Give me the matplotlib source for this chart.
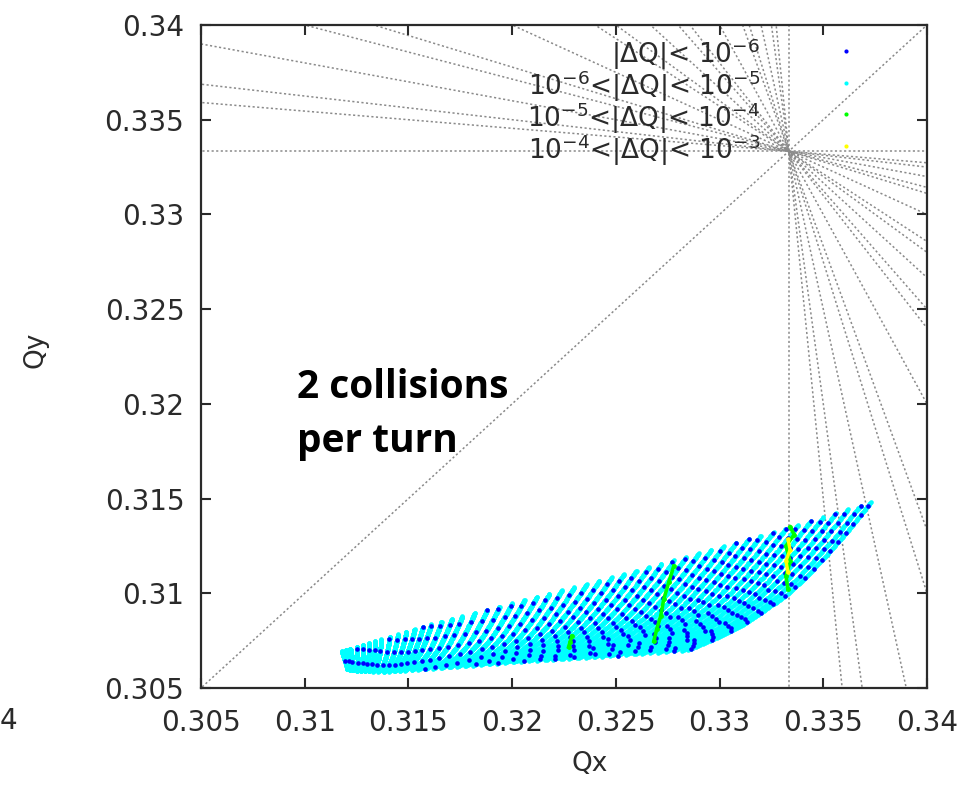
import numpy as np
import matplotlib.pyplot as plt
from matplotlib.ticker import FixedLocator, FuncFormatter

# resonance lines m*Qx + n*Qy = p through the third-order point
resonances = [
    (0, 3, 1), (3, 0, 1), (1, -1, 0),
    (1, 2, 1), (2, 1, 1),
    (1, 5, 2), (5, 1, 2), (3, 3, 2),
    (1, 8, 3), (8, 1, 3), (2, 7, 3), (7, 2, 3), (4, 5, 3), (5, 4, 3),
    (1, 11, 4), (11, 1, 4), (5, 7, 4), (7, 5, 4), (3, 9, 4), (9, 3, 4),
]

# footprint boundary: zero-amplitude tip and the four edges
upper_qx = [0.3373, 0.3333, 0.3280, 0.3240, 0.3208, 0.3159, 0.3117]
upper_qy = [0.3148, 0.31345, 0.3118, 0.3106, 0.3097, 0.3083, 0.3069]
lower_qx = [0.3285, 0.3238, 0.3208, 0.3160, 0.3138, 0.3125, 0.3120]
lower_qy = [0.3070, 0.3066, 0.30642, 0.30600, 0.30585, 0.30590, 0.30600]
right_qx = [0.3373, 0.3362, 0.3351, 0.3341, 0.3333, 0.3322, 0.3311, 0.3298, 0.3285]
right_qy = [0.3148, 0.3133, 0.31195, 0.3108, 0.3100, 0.3091, 0.3083, 0.3076, 0.3070]
left_qx = [0.3117, 0.3120]
left_qy = [0.3069, 0.3060]

# horizontal tune where each constant-amplitude line leaves the upper edge
stripe_qx = [0.3373, 0.3368, 0.3362, 0.3356, 0.3350, 0.3344, 0.3338, 0.3332,
             0.3326, 0.3320, 0.3314, 0.3308, 0.3302, 0.3296, 0.3290, 0.3284,
             0.3278, 0.3272, 0.3266, 0.3260, 0.3254, 0.3248, 0.3242, 0.3236,
             0.3230, 0.3224, 0.3218, 0.3212, 0.3206, 0.3200, 0.3194, 0.3188,
             0.3182, 0.3176, 0.3171, 0.3166, 0.3161, 0.3157, 0.3153, 0.3149,
             0.3145, 0.3141, 0.3137, 0.3134, 0.3131, 0.3128, 0.3125, 0.3122,
             0.3120, 0.3118]
n_steps = 150
slow_gap_px = 14

# particles with larger tune diffusion
green_runs = [
    ([0.3334, 0.3336, 0.3332, 0.3334, 0.3332, 0.3333], [0.3135, 0.3131, 0.3125, 0.3117, 0.3109, 0.3102]),
    ([0.32779, 0.32755, 0.32731, 0.32716, 0.32697, 0.32683], [0.31143, 0.31058, 0.30969, 0.30879, 0.30811, 0.30747]),
    ([0.32288, 0.32280, 0.32272], [0.30774, 0.30745, 0.30716]),
]
yellow_runs = [
    ([0.3333, 0.3334, 0.3332, 0.3333], [0.31285, 0.31230, 0.31170, 0.31111]),
]

labels = [r'|ΔQ|< 10$^{-6}$', r'10$^{-6}$<|ΔQ|< 10$^{-5}$',
          r'10$^{-5}$<|ΔQ|< 10$^{-4}$', r'10$^{-4}$<|ΔQ|< 10$^{-3}$']
colors = ['#0000ff', '#00ffff', '#00ff00', '#ffff00']
ticks = [0.305, 0.31, 0.315, 0.32, 0.325, 0.33, 0.335, 0.34]

plt.rcParams['font.family'] = 'DejaVu Sans'
ink = '#2a2a2a'
fig = plt.figure(figsize=(9.69, 7.85), dpi=100)
ax = fig.add_axes([201 / 969, 1 - 688 / 785, 726 / 969, 663 / 785])
ax.set_xlim(0.305, 0.34)
ax.set_ylim(0.305, 0.34)

for m, n, p in resonances:
    if n == 0:
        xs, ys = [p / m, p / m], [0.30, 0.35]
    else:
        xs = np.array([0.30, 0.35])
        ys = (p - m * xs) / n
    ax.plot(xs, ys, color='#8a8a8a', lw=1.1, ls=(0, (1.4, 1.6)), zorder=1)

# Coons patch between the four edges, u along amplitude x, v along amplitude y
q0 = np.array([upper_qx[0], upper_qy[0]])
q1 = np.array([upper_qx[-1], upper_qy[-1]])
q2 = np.array([lower_qx[0], lower_qy[0]])
q3 = np.array([lower_qx[-1], lower_qy[-1]])
su = (q0[0] - np.array(stripe_qx)) / (q0[0] - q1[0])
sv = np.linspace(0, 1, n_steps)
U, V = np.meshgrid(su, sv, indexing='ij')

uu = (q0[0] - np.array(upper_qx)) / (q0[0] - q1[0])
lu = (lower_qx[0] - np.array(lower_qx)) / (lower_qx[0] - lower_qx[-1])
ru = (right_qy[0] - np.array(right_qy)) / (right_qy[0] - right_qy[-1])
c0 = np.stack([np.interp(U, uu, upper_qx), np.interp(U, uu, upper_qy)])
c1 = np.stack([np.interp(U, lu, lower_qx), np.interp(U, lu, lower_qy)])
d0 = np.stack([np.interp(V, ru, right_qx), np.interp(V, ru, right_qy)])
d1 = np.stack([np.interp(V, [0, 1], left_qx), np.interp(V, [0, 1], left_qy)])
corner = ((1 - U) * (1 - V))[None] * q0[:, None, None] + (U * (1 - V))[None] * q1[:, None, None] \
    + ((1 - U) * V)[None] * q2[:, None, None] + (U * V)[None] * q3[:, None, None]
qx, qy = (1 - V) * c0 + V * c1 + (1 - U) * d0 + U * d1 - corner

# slowest particles sit every few pixels along each amplitude line
px = ax.transData.transform(np.column_stack([qx.ravel(), qy.ravel()])).reshape(len(stripe_qx), n_steps, 2)
slow = np.zeros(qx.shape, dtype=bool)
for i in range(len(stripe_qx)):
    length = np.hypot(*np.diff(px[i], axis=0).T).sum()
    step = max(1, int(round(n_steps * slow_gap_px / length)))
    slow[i, (step // 2 + 5 * i) % step::step] = True

ax.scatter(qx.ravel(), qy.ravel(), s=11, c=colors[1], linewidths=0, zorder=2)
ax.scatter(qx[slow], qy[slow], s=11, c=colors[0], linewidths=0, zorder=3)
for xs, ys in green_runs:
    ax.plot(xs, ys, color=colors[2], lw=2.6, marker='o', ms=2.5, zorder=4)
for xs, ys in yellow_runs:
    ax.plot(xs, ys, color=colors[3], lw=2.4, marker='o', ms=2.2, zorder=5)

# key in the upper right corner, text right aligned before the sample point
for k, (lab, col) in enumerate(zip(labels, colors)):
    ax.text(0.770, 0.9427 - 0.0483 * k, lab, transform=ax.transAxes, ha='right',
            va='baseline', fontsize=19, color=ink, zorder=6)
    ax.scatter([0.888], [0.9608 - 0.0478 * k], s=9, c=col, linewidths=0,
               transform=ax.transAxes, zorder=6)

ax.text(0.30962, 0.32033, '2 collisions', family='Open Sans', weight='bold',
        fontsize=28, va='baseline', zorder=7)
ax.text(0.30962, 0.31745, 'per turn', family='Open Sans', weight='bold',
        fontsize=28, va='baseline', zorder=7)

ax.xaxis.set_major_locator(FixedLocator(ticks))
ax.yaxis.set_major_locator(FixedLocator(ticks))
fmt = FuncFormatter(lambda v, pos: '%g' % round(v, 4))
ax.xaxis.set_major_formatter(fmt)
ax.yaxis.set_major_formatter(fmt)
ax.tick_params(direction='in', length=7, width=1.5, top=True, right=True,
               labelsize=20, colors=ink, pad=12)
ax.tick_params(axis='x', pad=15)
for sp in ax.spines.values():
    sp.set_linewidth(1.6)
    sp.set_color(ink)

ax.set_xlabel('Qx', fontsize=19, color=ink)
ax.set_ylabel('Qy', fontsize=19, color=ink)
ax.xaxis.set_label_coords(0.536, -0.095)
ax.yaxis.set_label_coords(-0.21, 0.51)

fig.text(0, 1 - 721 / 785, '4', ha='left', va='center', fontsize=20, color=ink)

fig.savefig('out.png', dpi=100)
